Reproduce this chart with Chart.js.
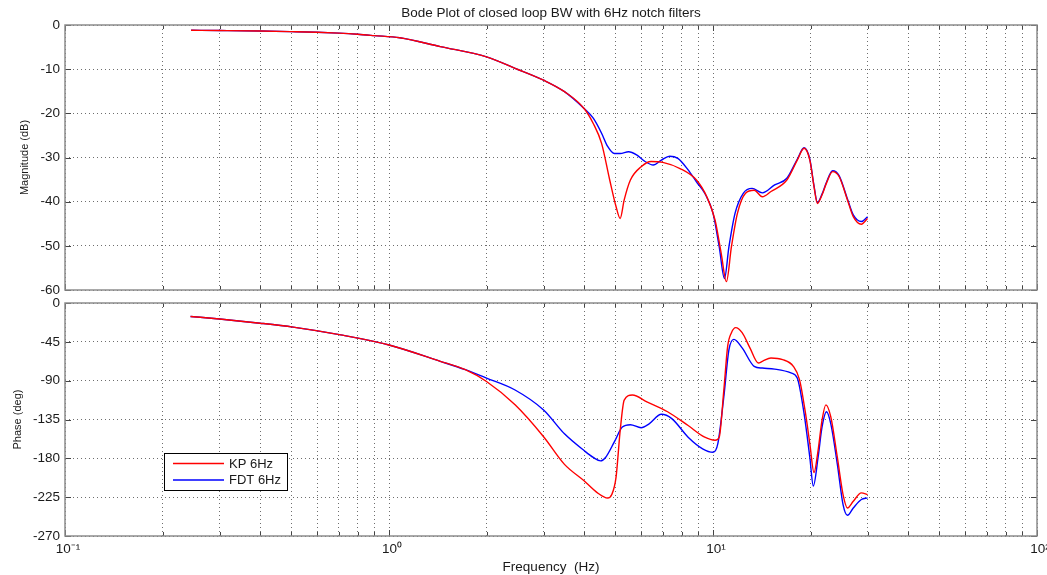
<!DOCTYPE html>
<html>
<head>
<meta charset="utf-8">
<script src="https://cdn.jsdelivr.net/npm/chart.js@4.4.0/dist/chart.umd.min.js"></script>
<style>
  html, body { margin: 0; padding: 0; background: #fff; }
  #wrap { position: relative; width: 1047px; height: 575px; }
  #magBox { position: absolute; left: 0; top: 0; width: 1047px; height: 300px; }
  #phaseBox { position: absolute; left: 0; top: 295px; width: 1047px; height: 280px; }
</style>
</head>
<body>
<div id="wrap">
  <div id="magBox"><canvas id="magChart"></canvas></div>
  <div id="phaseBox"><canvas id="phaseChart"></canvas></div>
</div>
<script>
// frequency ticks (Hz) for the log grid, decade labels
var xTickVals = [0.1, 0.2, 0.3, 0.4, 0.5, 0.6, 0.7, 0.8, 0.9,
                 1, 2, 3, 4, 5, 6, 7, 8, 9,
                 10, 20, 30, 40, 50, 60, 70, 80, 90, 100];
var decadeVals = [0.1, 1, 10, 100];
var decadeLabels = ['10\u207B\u00B9', '10\u2070', '10\u00B9', '10\u00B2'];

// magnitude (dB) - KP 6Hz
var magFreqKP = [0.245, 0.3, 0.4, 0.5, 0.6, 0.7, 0.8, 0.9, 1.08, 1.44, 2, 2.45, 3, 3.48, 4.0,
  4.27, 4.53, 4.8, 5.02, 5.17, 5.32, 5.56, 6.0, 6.44, 7.0, 7.91, 8.89, 9.57, 10.15, 10.6, 11.0,
  11.4, 11.9, 12.6, 13.4, 14.2, 15.1, 16.9, 18.2, 19.1, 19.9, 20.5, 21.0, 21.7, 22.4, 23.4,
  24.5, 26.0, 27.1, 28.7, 30];
var magKP = [-1.2, -1.25, -1.35, -1.5, -1.65, -1.85, -2.1, -2.4, -2.9, -4.9, -7.2, -9.8, -12.5, -15.1, -18.9,
  -22.3, -26.8, -35.1, -41.1, -43.8, -39.6, -35.1, -32.1, -30.9, -31.1, -32.5, -35.1, -38.9, -44.2, -51.7, -58.1,
  -50.2, -42.6, -38.1, -37.4, -38.9, -37.7, -35.1, -30.6, -27.9, -30.6, -36.6, -40.4, -38.5, -35.8, -33.2,
  -34.3, -39.6, -43.4, -45.1, -43.8];

// magnitude (dB) - FDT 6Hz
var magFreqFDT = [0.245, 0.3, 0.4, 0.5, 0.6, 0.7, 0.8, 0.9, 1.08, 1.44, 2, 2.45, 3, 3.48, 4.0,
  4.27, 4.53, 4.73, 4.96, 5.17, 5.49, 5.81, 6.17, 6.54, 6.93, 7.35, 7.79, 8.38, 8.89, 9.43, 10,
  10.45, 10.85, 11.2, 11.7, 12.4, 13.2, 14.2, 15.5, 16.9, 18.2, 19.1, 19.9, 20.5, 21.0, 21.7,
  22.4, 23.4, 24.5, 26.0, 27.1, 28.7, 30];
var magFDT = [-1.2, -1.25, -1.35, -1.5, -1.65, -1.85, -2.1, -2.4, -2.9, -4.9, -7.2, -9.8, -12.5, -15.1, -18.9,
  -21.1, -24.5, -27.5, -29.1, -29.1, -28.7, -29.4, -30.9, -31.7, -30.6, -29.7, -30.2, -32.8, -35.5, -38.1, -42.6,
  -50.2, -57.4, -50.2, -42.6, -38.1, -37.0, -38.0, -36.2, -34.7, -30.4, -27.8, -30.4, -36.4, -40.2, -38.3,
  -35.6, -33.0, -34.1, -39.4, -43.0, -44.5, -43.4];

// phase (deg) - KP 6Hz
var phaseFreqKP = [0.244, 0.3, 0.4, 0.506, 0.71, 1.0, 1.44, 1.72, 2.0, 2.45, 3.0, 3.48, 4.0, 4.4, 4.73,
  4.87, 5.02, 5.17, 5.32, 5.64, 6.25, 7.24, 8.38, 9.43, 10.15, 10.45, 10.8, 11.1, 11.4, 11.75,
  12.3, 13.0, 13.8, 14.2, 15.1, 16.4, 17.7, 18.5, 19.3, 19.9, 20.5, 21.1, 21.7, 22.3, 23.1,
  24.2, 25.2, 26.0, 27.1, 28.7, 30];
var phaseKP = [-15.6, -18.6, -23.4, -28, -37, -48.7, -67.6, -77.3, -91, -118, -155, -187, -206, -220, -226,
  -222, -202, -148, -112.5, -106.6, -114.5, -126, -142, -155.5, -159, -155.5, -101, -50, -34.4, -28.5,
  -34.4, -52, -69.5, -67.6, -63.7, -65.6, -73.4, -89, -128, -163, -196.5, -171, -136, -118, -132,
  -179, -222, -237.5, -229.7, -220, -222];

// phase (deg) - FDT 6Hz
var phaseFreqFDT = [0.244, 0.3, 0.4, 0.506, 0.71, 1.0, 1.44, 1.72, 2.0, 2.45, 3.0, 3.48, 4.0, 4.27, 4.5,
  4.66, 4.96, 5.25, 5.56, 6.0, 6.35, 6.93, 7.46, 8.38, 9.29, 10.0, 10.35, 10.8, 11.2, 11.6,
  12.3, 13.4, 14.2, 15.5, 17.4, 18.2, 19.1, 19.9, 20.4, 21.1, 21.7, 22.4, 23.1, 24.2, 25.2,
  26.0, 27.1, 28.7, 30];
var phaseFDT = [-15.6, -18.6, -23.4, -28, -37, -48.7, -67.6, -77.3, -87, -100.8, -124, -151.6, -171, -179, -183,
  -179, -161, -143.8, -141, -144.5, -140, -129, -134, -155.5, -169, -173, -163, -108.6, -54, -42.2,
  -52, -73.4, -75.4, -76.6, -81, -87, -128, -179, -212, -179, -143.8, -126, -140, -187, -233.6,
  -246, -237.5, -227.7, -225.8];

var seriesNames = ['KP 6Hz', 'FDT 6Hz'];
var seriesColors = ['#ff0000', '#0000ff'];

function toPoints(xs, ys) {
  return xs.map(function (x, i) { return { x: x, y: ys[i] }; });
}

var FONT = 'Liberation Sans, Arial, sans-serif';
var TEXT = '#1a1a1a';

// box around the plot area + inward tick marks (matlab style)
var frameTicks = {
  id: 'frameTicks',
  afterDraw: function (chart) {
    var ctx = chart.ctx, a = chart.chartArea;
    var xs = chart.scales.x, ys = chart.scales.y;
    ctx.save();
    ctx.strokeStyle = '#444';
    ctx.lineWidth = 1;
    ctx.beginPath();
    xs.ticks.forEach(function (t) {
      var px = Math.round(xs.getPixelForValue(t.value)) + 0.5;
      var len = decadeVals.indexOf(t.value) >= 0 ? 6 : 4;
      ctx.moveTo(px, a.bottom); ctx.lineTo(px, a.bottom - len);
      ctx.moveTo(px, a.top); ctx.lineTo(px, a.top + len);
    });
    ys.ticks.forEach(function (t) {
      var py = Math.round(ys.getPixelForValue(t.value)) + 0.5;
      ctx.moveTo(a.left, py); ctx.lineTo(a.left + 6, py);
      ctx.moveTo(a.right, py); ctx.lineTo(a.right - 6, py);
    });
    ctx.stroke();
    ctx.strokeStyle = '#8c8c8c';
    ctx.lineWidth = 1.5;
    ctx.strokeRect(a.left, a.top, a.right - a.left, a.bottom - a.top);
    ctx.restore();
  }
};

// legend box inside the phase plot, lower left
var boxLegend = {
  id: 'boxLegend',
  afterDatasetsDraw: function (chart) {
    var ctx = chart.ctx, a = chart.chartArea;
    var left = a.left + 99, top = a.top + 150, w = 123, h = 37;
    ctx.save();
    ctx.fillStyle = '#fff';
    ctx.fillRect(left, top, w, h);
    ctx.strokeStyle = '#000';
    ctx.lineWidth = 1;
    ctx.strokeRect(left + 0.5, top + 0.5, w, h);
    ctx.font = '13px ' + FONT;
    ctx.textBaseline = 'middle';
    chart.data.datasets.forEach(function (ds, i) {
      var yy = top + 10.5 + i * 16.5;
      ctx.strokeStyle = ds.borderColor;
      ctx.lineWidth = 1.4;
      ctx.beginPath();
      ctx.moveTo(left + 9, yy); ctx.lineTo(left + 60, yy);
      ctx.stroke();
      ctx.fillStyle = TEXT;
      ctx.fillText(ds.label, left + 65, yy + 0.5);
    });
    ctx.restore();
  }
};

function makeDatasets(p1, p2) {
  return [p1, p2].map(function (pts, i) {
    return {
      label: seriesNames[i],
      data: pts,
      borderColor: seriesColors[i],
      backgroundColor: seriesColors[i],
      borderWidth: 1.4,
      pointRadius: 0,
      fill: false,
      cubicInterpolationMode: 'monotone'
    };
  });
}

function xScale(showLabels) {
  return {
    type: 'logarithmic',
    min: 0.1,
    max: 100,
    afterBuildTicks: function (s) {
      s.ticks = xTickVals.map(function (v) { return { value: v }; });
    },
    afterFit: function (s) {
      s.height = showLabels ? 39 : 0;
      s.paddingLeft = 0;
      s.paddingRight = 0;
    },
    grid: { color: '#6e6e6e', lineWidth: 1, drawTicks: false },
    border: { display: false, dash: [1, 3] },
    ticks: {
      display: showLabels,
      autoSkip: false,
      maxRotation: 0,
      padding: 5,
      labelOffset: 3,
      color: TEXT,
      font: { family: FONT, size: 13.5 },
      callback: function (v) {
        var k = decadeVals.indexOf(v);
        return k >= 0 ? decadeLabels[k] : '';
      }
    },
    title: {
      display: showLabels,
      text: 'Frequency  (Hz)',
      color: TEXT,
      font: { family: FONT, size: 13.5 },
      padding: { top: 0, bottom: 0 }
    }
  };
}

function yScale(min, max, step, label, titlePad) {
  return {
    min: min,
    max: max,
    afterFit: function (s) {
      s.width = 65;
      s.paddingTop = 0;
      s.paddingBottom = 0;
    },
    grid: { color: '#6e6e6e', lineWidth: 1, drawTicks: false },
    border: { display: false, dash: [1, 3] },
    ticks: {
      stepSize: step,
      padding: 5,
      color: TEXT,
      font: { family: FONT, size: 13.5 }
    },
    title: {
      display: true,
      text: label,
      color: TEXT,
      font: { family: FONT, size: 11 },
      padding: { top: titlePad, bottom: 0 }
    }
  };
}

new Chart(document.getElementById('magChart').getContext('2d'), {
  type: 'line',
  data: { datasets: makeDatasets(toPoints(magFreqKP, magKP), toPoints(magFreqFDT, magFDT)) },
  options: {
    responsive: true,
    maintainAspectRatio: false,
    animation: false,
    layout: { padding: { left: 0, right: 10, top: 0, bottom: 10 } },
    plugins: {
      legend: { display: false },
      tooltip: { enabled: false },
      title: {
        display: true,
        fullSize: false,   // centre over the plot area, not the canvas
        text: 'Bode Plot of closed loop BW with 6Hz notch filters',
        color: TEXT,
        font: { family: FONT, size: 13.5, weight: 'normal' },
        padding: { top: 5, bottom: 3.8 }
      }
    },
    scales: {
      x: xScale(false),
      y: yScale(-60, 0, 10, 'Magnitude (dB)', 18.4)
    }
  },
  plugins: [frameTicks]
});

new Chart(document.getElementById('phaseChart').getContext('2d'), {
  type: 'line',
  data: { datasets: makeDatasets(toPoints(phaseFreqKP, phaseKP), toPoints(phaseFreqFDT, phaseFDT)) },
  options: {
    responsive: true,
    maintainAspectRatio: false,
    animation: false,
    layout: { padding: { left: 0, right: 10, top: 8, bottom: 0 } },
    plugins: {
      legend: { display: false },
      tooltip: { enabled: false }
    },
    scales: {
      x: xScale(true),
      y: yScale(-270, 0, 45, 'Phase (deg)', 11.4)
    }
  },
  plugins: [frameTicks, boxLegend]
});
</script>
</body>
</html>
